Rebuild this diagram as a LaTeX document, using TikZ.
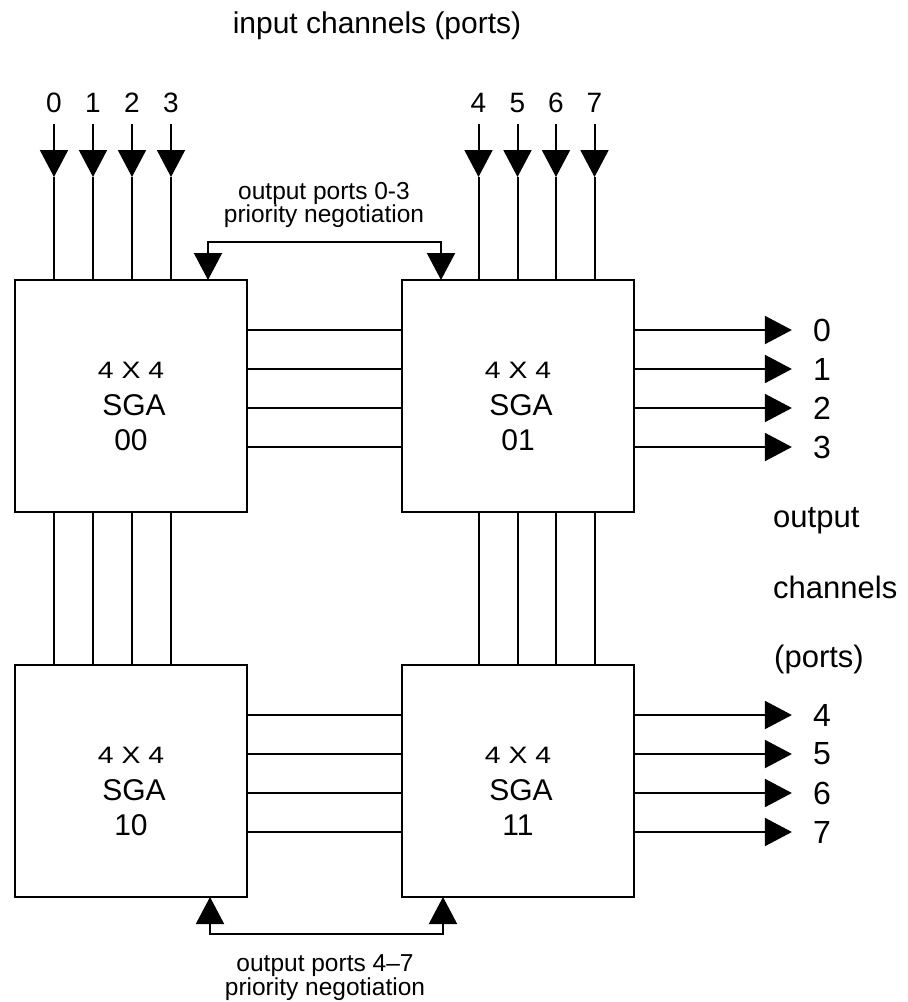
\documentclass[tikz,border=0pt]{standalone}
\usepackage{fontspec}
\usepackage{graphicx}
\setmainfont{Liberation Sans}
\usetikzlibrary{arrows.meta}

% three-line caption inside an SGA block: "4 X 4", "SGA", block number
\newcommand\sgatext[2]{%
  \node[boxtxt,fnt=27] (#1a) at ([yshift=-98pt]#1.north) {\scalebox{1.05}[0.88]{4 X 4}};
  \node[boxtxt,fnt=30] (#1b) at ([xshift=3pt,yshift=-135pt]#1.north) {SGA};
  \node[boxtxt,fnt=30] (#1c) at ([yshift=-170pt]#1.north) {#2};
}

\begin{document}
\begin{tikzpicture}[x=1pt,y=-1pt,
  >={Triangle[width=28pt,length=27pt]},
  fnt/.style={font=\fontsize{#1}{#1}\selectfont},
  sga/.style={draw,line width=2.6pt,minimum width=232pt,minimum height=232pt,
              inner sep=0pt,outer sep=0pt},
  link/.style={line width=2pt},
  inlab/.style={fnt=28,inner xsep=0pt,inner ysep=11pt,anchor=south},
  outlab/.style={fnt=32,inner sep=0pt},
  boxtxt/.style={inner sep=0pt,anchor=base},
  negtxt/.style={font=\fontsize{24.5}{22.5}\selectfont,align=center,inner sep=0pt},
  side/.style={fnt=31,anchor=base west,inner sep=0pt},
]
\useasboundingbox (0,0) rectangle (908,1002);

% heading
\node[fnt=30,anchor=base,inner sep=0pt] (title) at (377,33) {input channels (ports)};

% the four switch blocks
\node[sga] (b00) at (131,396) {};
\node[sga] (b01) at (518,396) {};
\node[sga] (b10) at (131,781) {};
\node[sga] (b11) at (518,781) {};
\sgatext{b00}{00}
\sgatext{b01}{01}
\sgatext{b10}{10}
\sgatext{b11}{11}

% input ports with their arrows, and the vertical links below
\coordinate (tin) at (0,177);
\foreach \n/\x in {0/54,1/93,2/132,3/171} {
  \node[inlab] (i\n) at (\x,124) {\n};
  \draw[link,->] (i\n.south) -- (i\n.south |- tin);
  \draw[link] (i\n.south |- tin) -- (i\n.south |- b00.north);
  \draw[link] (i\n.south |- b00.south) -- (i\n.south |- b10.north);
}
\foreach \n/\x in {4/478.5,5/517.5,6/556,7/594.5} {
  \node[inlab] (i\n) at (\x,124) {\n};
  \draw[link,->] (i\n.south) -- (i\n.south |- tin);
  \draw[link] (i\n.south |- tin) -- (i\n.south |- b01.north);
  \draw[link] (i\n.south |- b01.south) -- (i\n.south |- b11.north);
}

% horizontal links and output ports
\foreach \n/\y in {0/330,1/369,2/408,3/447} {
  \node[outlab] (o\n) at (822,\y) {\n};
  \draw[link] (b00.east |- o\n) -- (b01.west |- o\n);
  \draw[link,->] (b01.east |- o\n) -- ([xshift=-21pt]o\n.west);
}
\foreach \n/\y in {4/715,5/754,6/793,7/832} {
  \node[outlab] (o\n) at (822,\y) {\n};
  \draw[link] (b10.east |- o\n) -- (b11.west |- o\n);
  \draw[link,->] (b11.east |- o\n) -- ([xshift=-21pt]o\n.west);
}

% priority negotiation paths
\coordinate (nTL) at (208,242);
\coordinate (nTR) at (441,242);
\draw[link,<->] (b00.north -| nTL) -- (nTL) -- (nTR) -- (b01.north -| nTR);
\coordinate (nBL) at (210,934);
\coordinate (nBR) at (443,934);
\draw[link,<->] (b10.south -| nBL) -- (nBL) -- (nBR) -- (b11.south -| nBR);

\node[negtxt] (n03) at (324,205) {output ports 0-3\\priority negotiation};
\node[negtxt] (n47) at (325,978) {output ports 4–7\\priority negotiation};

% side caption for the output ports
\node[side] (oc1) at (773,527) {output};
\node[side] (oc2) at (773,598) {channels};
\node[side] (oc3) at (774,667) {(ports)};
\end{tikzpicture}
\end{document}
